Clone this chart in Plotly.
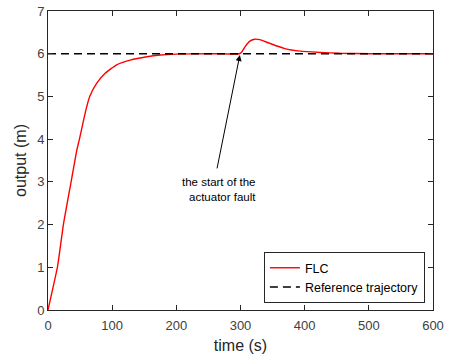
import plotly.graph_objects as go

time_s = [0, 7, 15, 24, 36, 45, 49, 59, 65, 76, 89, 107, 128, 154, 175, 200, 250, 298,
          302, 307, 314, 322, 330, 346, 369, 393, 424, 455, 500, 550, 600]
flc_output = [0, 0.47, 1.03, 2.0, 3.0, 3.75, 4.0, 4.68, 5.0, 5.31, 5.54, 5.74, 5.85, 5.93,
              5.97, 5.99, 6.0, 6.0, 6.04, 6.16, 6.29, 6.34, 6.33, 6.24, 6.12, 6.06, 6.03,
              6.01, 6.0, 6.0, 6.0]
ref_time = [0, 600]
ref_output = [6, 6]

x_ticks = [0, 100, 200, 300, 400, 500, 600]
y_ticks = [0, 1, 2, 3, 4, 5, 6, 7]

fig = go.Figure()
fig.add_trace(go.Scatter(x=time_s, y=flc_output, mode="lines", name="FLC",
                         line=dict(color="#ff0000", width=1.4, shape="spline", smoothing=0.5)))
fig.add_trace(go.Scatter(x=ref_time, y=ref_output, mode="lines", name="Reference trajectory",
                         line=dict(color="#000000", width=1.6, dash="8px,5px")))

fig.add_annotation(x=299, y=5.97, ax=263, ay=3.28, axref="x", ayref="y", xref="x", yref="y",
                   text="", showarrow=True, arrowhead=2, arrowsize=1.2, arrowwidth=1,
                   arrowcolor="#000000", standoff=0)
fig.add_annotation(x=266, y=2.81, xref="x", yref="y", text="the start of the<br>actuator fault",
                   showarrow=False, align="right", font=dict(size=11.5, color="#000000"))

axis_common = dict(showline=True, linecolor="#262626", linewidth=1, mirror="ticks",
                   ticks="inside", ticklen=5, tickcolor="#262626", showgrid=False,
                   zeroline=False, automargin=False, ticklabeloverflow="allow",
                   tickfont=dict(size=13, color="#404040"))

fig.update_xaxes(range=[0, 600], tickvals=x_ticks, ticklabelstandoff=3,
                 title=dict(text="time (s)", font=dict(size=16, color="#262626"), standoff=8),
                 **axis_common)
fig.update_yaxes(range=[0, 7], tickvals=y_ticks,
                 title=dict(text="output (m)", font=dict(size=16, color="#262626"), standoff=6),
                 **axis_common)

fig.update_layout(width=452, height=358, margin=dict(l=48, r=19, t=11, b=48),
                  plot_bgcolor="white", paper_bgcolor="white",
                  font=dict(family="Liberation Sans, Arial, sans-serif"),
                  legend=dict(x=0.979, y=0.023, xanchor="right", yanchor="bottom",
                              bordercolor="#262626", borderwidth=1, bgcolor="white",
                              font=dict(size=12.5, color="#000000"), tracegroupgap=0,
                              itemwidth=30))

fig.write_html("out.html", config={"displayModeBar": False},
               post_script="document.body.style.margin='0';")
